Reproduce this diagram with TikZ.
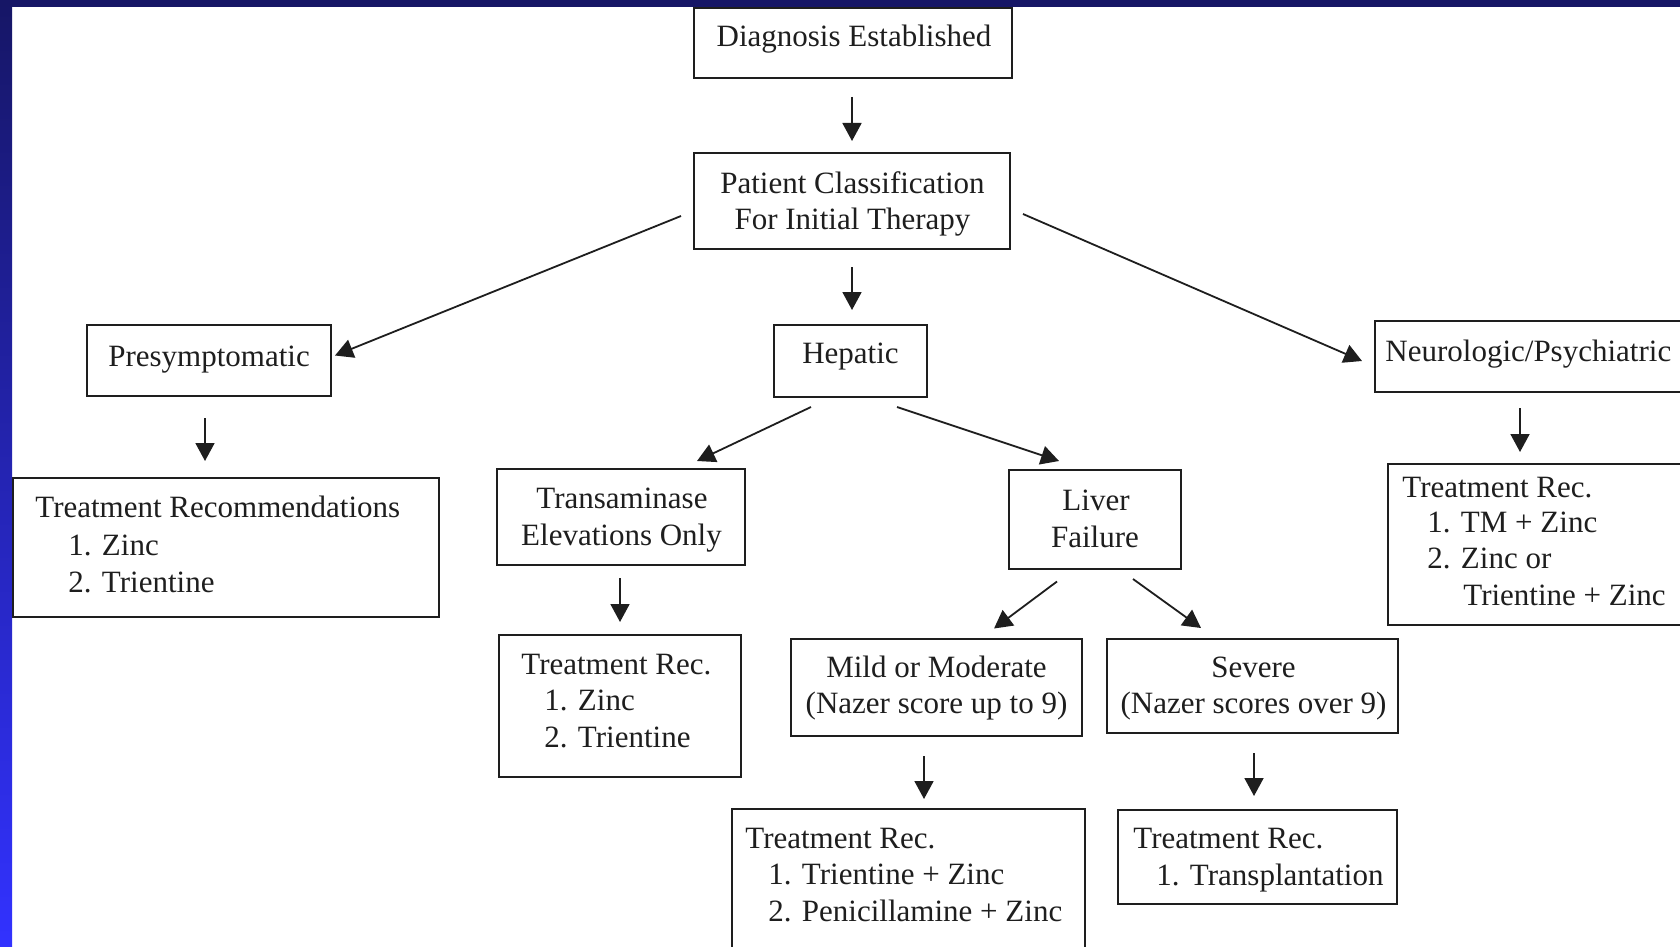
\documentclass[tikz,border=0pt]{standalone}
\usepackage{fontspec}
\setmainfont{Liberation Serif}
\usetikzlibrary{arrows.meta}
\definecolor{navy}{RGB}{22,22,102}
\definecolor{brightblue}{RGB}{50,50,255}
\definecolor{ink}{RGB}{30,30,30}
\begin{document}
\begin{tikzpicture}[x=0.5pt,y=-0.5pt,
  box/.style={draw=ink, line width=1pt, inner sep=0pt},
  sz/.style 2 args={minimum width=#1*0.5pt, minimum height=#2*0.5pt},
  txt/.style={inner sep=0pt, text=ink, font=\fontsize{15.5pt}{18pt}\selectfont},
  arr/.style={draw=ink, line width=0.9pt, -{Triangle[length=9pt,width=9.5pt]}}]
\useasboundingbox (0,0) rectangle (1680,947);
\fill[white] (0,0) rectangle (1680,947);
\shade[top color=navy, bottom color=brightblue] (0,0) rectangle (12,947);
\fill[navy] (0,0) rectangle (1680,7);

% boxes
\node[box, sz={318}{70}] (diag) at (853,43) {};
\node[box, sz={316}{96}] (pc) at (852,201) {};
\node[box, sz={244}{71}] (pre) at (209,360.5) {};
\node[box, sz={153}{72}] (hep) at (850.5,361) {};
\node[box, sz={325}{71}] (neu) at (1537.5,356.5) {};
\node[box, sz={426}{139}] (trec1) at (226,547.5) {};
\node[box, sz={248}{96}] (trans) at (621,517) {};
\node[box, sz={172}{99}] (liver) at (1095,519) {};
\node[box, sz={242}{142}] (trec2) at (620,706) {};
\node[box, sz={291}{97}] (mild) at (936.5,687.5) {};
\node[box, sz={291}{94}] (sev) at (1252.5,686) {};
\node[box, sz={353}{166}] (trec3) at (908.5,892) {};
\node[box, sz={279}{94}] (trec4) at (1257.5,857) {};
\node[box, sz={312}{161}] (trec5) at (1544,544.5) {};

% texts
\node[txt, anchor=base] (diag-t) at (854,47) {Diagnosis Established};
\node[txt, anchor=base] (pc-t1) at (852.5,193) {Patient Classification};
\node[txt, anchor=base] (pc-t2) at (852.5,229) {For Initial Therapy};
\node[txt, anchor=base] (pre-t) at (209,366) {Presymptomatic};
\node[txt, anchor=base] (hep-t) at (850.5,363) {Hepatic};
\node[txt, anchor=base west] (neu-t) at (1385,361) {Neurologic/Psychiatric};
\node[txt, anchor=base west] (trec1-t1) at (35,517) {Treatment Recommendations};
\node[txt, anchor=base west] (trec1-t2) at (68,555) {1. Zinc};
\node[txt, anchor=base west] (trec1-t3) at (68,592) {2. Trientine};
\node[txt, anchor=base] (trans-t1) at (622,508) {Transaminase};
\node[txt, anchor=base] (trans-t2) at (621.5,545) {Elevations Only};
\node[txt, anchor=base] (liver-t1) at (1096,510) {Liver};
\node[txt, anchor=base] (liver-t2) at (1095,547) {Failure};
\node[txt, anchor=base west] (trec2-t1) at (521,674) {Treatment Rec.};
\node[txt, anchor=base west] (trec2-t2) at (544,710) {1. Zinc};
\node[txt, anchor=base west] (trec2-t3) at (544,747) {2. Trientine};
\node[txt, anchor=base] (mild-t1) at (936.5,677) {Mild or Moderate};
\node[txt, anchor=base] (mild-t2) at (936.5,713) {(Nazer score up to 9)};
\node[txt, anchor=base] (sev-t1) at (1253.5,677) {Severe};
\node[txt, anchor=base] (sev-t2) at (1253.5,713) {(Nazer scores over 9)};
\node[txt, anchor=base west] (trec3-t1) at (745,848) {Treatment Rec.};
\node[txt, anchor=base west] (trec3-t2) at (768,884) {1. Trientine + Zinc};
\node[txt, anchor=base west] (trec3-t3) at (768,921) {2. Penicillamine + Zinc};
\node[txt, anchor=base west] (trec4-t1) at (1133,848) {Treatment Rec.};
\node[txt, anchor=base west] (trec4-t2) at (1156,885) {1. Transplantation};
\node[txt, anchor=base west] (trec5-t1) at (1402,497) {Treatment Rec.};
\node[txt, anchor=base west] (trec5-t2) at (1427,532) {1. TM + Zinc};
\node[txt, anchor=base west] (trec5-t3) at (1427,568) {2. Zinc or};
\node[txt, anchor=base west] (trec5-t4) at (1463,605) {Trientine + Zinc};

% connectors
\draw[arr] ([shift={(-1,18)}]diag.south) -- ([shift={(0,-11)}]pc.north);
\draw[arr] ([shift={(0,17)}]pc.south) -- ([shift={(1.5,-14)}]hep.north);
\draw[arr] ([shift={(-12,15)}]pc.west) -- ([shift={(3,-5)}]pre.east);
\draw[arr] ([shift={(12,13)}]pc.east) -- ([shift={(-12,4.5)}]neu.west);
\draw[arr] ([shift={(-4,21)}]pre.south) -- ([shift={(-21,-16)}]trec1.north);
\draw[arr] ([shift={(-39.5,9)}]hep.south) -- ([shift={(76,-7)}]trans.north);
\draw[arr] ([shift={(46.5,9)}]hep.south) -- ([shift={(-36,-7.5)}]liver.north);
\draw[arr] ([shift={(-1,12)}]trans.south) -- ([shift={(0,-12)}]trec2.north);
\draw[arr] ([shift={(-38,12)}]liver.south) -- ([shift={(57.5,-9.5)}]mild.north);
\draw[arr] ([shift={(38,9.5)}]liver.south) -- ([shift={(-51.5,-10)}]sev.north);
\draw[arr] ([shift={(-12.5,19)}]mild.south) -- ([shift={(15.5,-9)}]trec3.north);
\draw[arr] ([shift={(1.5,19)}]sev.south) -- ([shift={(-3.5,-13)}]trec4.north);
\draw[arr] ([shift={(-17.5,15)}]neu.south) -- ([shift={(-24,-11)}]trec5.north);
\end{tikzpicture}
\end{document}
